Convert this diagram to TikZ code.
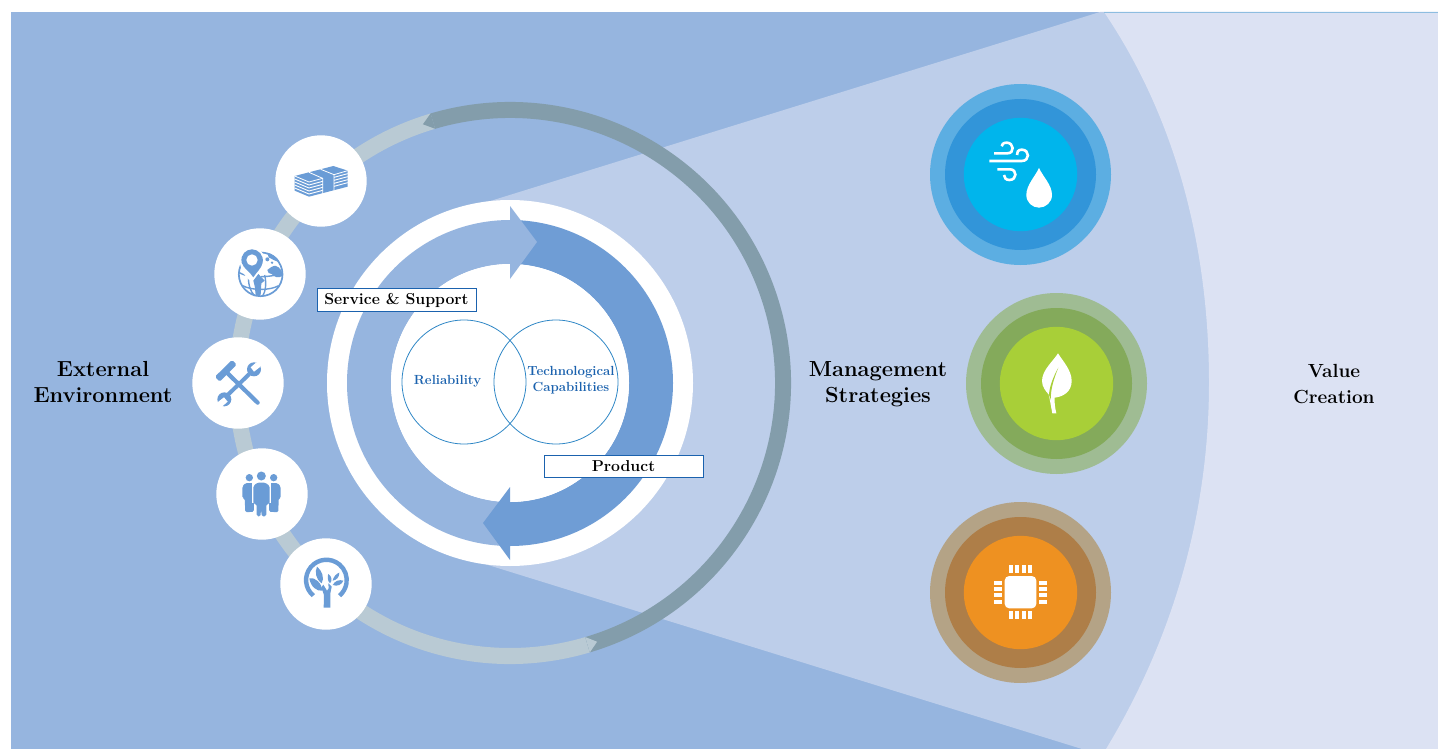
\documentclass[tikz,border=0pt]{standalone}
\definecolor{bgblue}{HTML}{96B5DF}
\definecolor{fanblue}{HTML}{BDCEEA}
\definecolor{farblue}{HTML}{DCE2F3}
\definecolor{ringdark}{HTML}{839DAB}
\definecolor{ringlight}{HTML}{B9CAD4}
\definecolor{arrowdark}{HTML}{6F9DD5}
\definecolor{textblue}{HTML}{1B62AE}
\definecolor{vennblue}{HTML}{2F87C6}
\definecolor{iconblue}{HTML}{6A9CD6}
\definecolor{aA}{HTML}{5CAEE2}\definecolor{aB}{HTML}{3295D9}\definecolor{aC}{HTML}{00B5EC}
\definecolor{bA}{HTML}{9FBC93}\definecolor{bB}{HTML}{84AA5B}\definecolor{bC}{HTML}{A8CF38}
\definecolor{cA}{HTML}{B4A386}\definecolor{cB}{HTML}{AE7E48}\definecolor{cC}{HTML}{EE9121}
\newcommand{\ringseg}[5]{\fill[#1] ([shift={(510,383)}]#2:#5) arc[start angle=#2,end angle=#3,radius=#5] -- ([shift={(510,383)}]#3:#4) arc[start angle=#3,end angle=#2,radius=#4] -- cycle;}
\newcommand{\target}[5]{\fill[#3] (#1,#2) circle (90.5);\fill[#4] (#1,#2) circle (75.5);\fill[#5] (#1,#2) circle (56.7);}
\tikzset{
  zoomed/.style={x=0.33333pt,y=-0.33333pt},
  headline/.style={font=\bfseries\fontsize{21.8}{26.3}\selectfont,align=center,inner sep=0pt,text=black},
  headsmall/.style={font=\bfseries\fontsize{19}{26.3}\selectfont,align=center,inner sep=0pt,text=black},
  tagbox/.style={draw=textblue,fill=white,line width=0.9pt,minimum width=159pt,minimum height=22.5pt,inner sep=0pt,font=\bfseries\fontsize{15.8}{16}\selectfont,text=black},
  venntext/.style={font=\bfseries\fontsize{13.2}{16}\selectfont,align=center,inner sep=0pt,text=textblue},
  vennring/.style={draw=vennblue,line width=0.8pt},
  whitedisc/.style={fill=white},
}
\begin{document}
\begin{tikzpicture}[x=1pt,y=-1pt]
\useasboundingbox (0,0) rectangle (1438,749);
% backgrounds
\fill[bgblue] (11,12) rectangle (1438,749);
\fill[fanblue] (480,204.2) -- (1100,12) -- (1438,12) -- (1438,749) -- (1082,749) -- (480,562.5) -- cycle;
\fill[farblue] (1104,12) .. controls (1175,117) and (1209,245) .. (1209,383) .. controls (1209,510) and (1175,635) .. (1106,749) -- (1438,749) -- (1438,12) -- cycle;
\draw[vennblue!55,line width=0.6pt] (1104,12) -- (1438,12);
% big ring
\ringseg{ringlight}{73.5}{253.6}{265}{281}
\ringseg{ringdark}{-106.4}{73.5}{265}{281}
\fill[ringdark] ([shift={(510,383)}]-106.4:265) -- ([shift={(510,383)}]-108.6:273) -- ([shift={(510,383)}]-106.4:281) -- cycle;
\fill[ringlight] ([shift={(510,383)}]73.5:265) -- ([shift={(510,383)}]71.4:273) -- ([shift={(510,383)}]73.5:281) -- cycle;
% white icon discs
\fill[whitedisc] (321,181) circle (45.7);
\fill[whitedisc] (260,274) circle (45.7);
\fill[whitedisc] (238,383) circle (45.7);
\fill[whitedisc] (262,494) circle (45.7);
\fill[whitedisc] (326,584) circle (45.7);
% central ring and arrows
\fill[whitedisc] (510,383) circle (183);
\ringseg{bgblue}{90}{270}{119}{163}
\ringseg{arrowdark}{-90}{90}{119}{163}
\fill[whitedisc] (510,383) circle (119);
\fill[arrowdark] (510,487) -- (510,560) -- (483,523) -- cycle;
\fill[bgblue] (510,206) -- (510,279) -- (537,242) -- cycle;
% venn
\draw[vennring] (464,382) circle (62);
\draw[vennring] (556,382) circle (62);
\node[venntext] (reliab) at (447.5,381.5) {Reliability};
\node[venntext] (techcap) at (571,380) {Technological\\Capabilities};
% tags
\node[tagbox] (service) at (396.5,300) {Service \& Support};
\node[tagbox] (product) at (623.5,466.5) {Product};
% headings
\node[headline] (external) at (103,382) {External\\Environment};
\node[headline] (mgmt) at (878,384) {Management\\Strategies};
\node[headsmall] (value) at (1334,384) {Value\\Creation};
% targets
\target{1020.5}{174.5}{aA}{aB}{aC}
\target{1056.5}{383.5}{bA}{bB}{bC}
\target{1020.5}{592.5}{cA}{cB}{cC}
% money icon
\begin{scope}[shift={(190,120)},zoomed]
\fill[iconblue] (314,168) -- (430,138) -- (473,152) -- (473,200) -- (357,230) -- (314,212) -- cycle;
\foreach \k in {1,...,4}{
  \draw[white,line width=0.9pt] (314,168+9*\k) -- (357,186+9*\k) -- (398,175+9*\k);
  \draw[white,line width=0.9pt] (432,163+9*\k) -- (473,152+9*\k);
}
\draw[white,line width=0.8pt] (314,168) -- (357,186) -- (398,175);
\draw[white,line width=0.8pt] (432,164) -- (473,152);
\draw[white,line width=0.8pt] (357,157) -- (398,175) -- (398,222);
\draw[white,line width=0.8pt] (392,148) -- (432,164) -- (432,212);
% globe icon
\draw[iconblue,line width=1.7pt] (212,463) circle (65.5);
\draw[iconblue,line width=1.4pt] (148,458) .. controls (170,474) and (250,474) .. (276,458);
\draw[iconblue,line width=1.4pt] (158,497) .. controls (185,512) and (240,512) .. (266,497);
\draw[iconblue,line width=1.4pt] (177,465) .. controls (172,490) and (182,515) .. (194,528);
\draw[iconblue,line width=1.4pt] (224,465) .. controls (230,490) and (227,515) .. (217,530);
\fill[iconblue] (232,450) .. controls (242,442) and (250,436) .. (258,438) .. controls (270,442) and (276,452) .. (279,466) .. controls (265,478) and (252,470) .. (245,462) .. controls (238,462) and (232,458) .. (232,450) -- cycle;
\fill[iconblue] (232,398) .. controls (245,400) and (262,412) .. (268,424) .. controls (256,426) and (246,416) .. (236,412) -- cycle;
\fill[iconblue] (232,418) circle (6) (246,428) circle (4);
\fill[white] (150,430) .. controls (155,465) and (180,482) .. (190,490) .. controls (205,480) and (226,460) .. (226,425) .. controls (226,400) and (205,382) .. (186,382) .. controls (165,382) and (148,405) .. (150,430) -- cycle;
\fill[iconblue] (155,428) .. controls (150,402) and (170,388) .. (186,388) .. controls (205,388) and (222,405) .. (218,428) .. controls (215,445) and (198,458) .. (190,472) .. controls (182,458) and (160,445) .. (155,428) -- cycle;
\fill[white] (186,420) circle (17);
\fill[iconblue] (205,462) -- (190,482) -- (194,498) -- (197,525) -- (212,525) -- (214,490) -- (224,482) -- cycle;
\end{scope}
% tool, people, tree icons
\begin{scope}[shift={(180,330)},zoomed]
\fill[iconblue,rounded corners=1.5pt] (105,140) -- (156,90) -- (170,104) -- (119,155) -- cycle;
\draw[iconblue,line width=4.2pt,line cap=round] (143,130) -- (233,218);
\draw[iconblue,line width=4pt] (140,198) -- (208,132);
\fill[iconblue] (222,118) circle (21);
\fill[white] (227,99) -- (212,112) -- (222,125) -- (240,111) -- (246,96) -- cycle;
\fill[iconblue] (133,208) circle (21);
\fill[white] (128,228) -- (143,215) -- (132,202) -- (115,215) -- (108,232) -- cycle;
% people
\fill[iconblue] (208,443) circle (11);
\fill[iconblue] (281,443) circle (11);
\fill[iconblue] (244,438) circle (13.5);
\fill[iconblue,rounded corners=1.5pt] (187,470) -- (196,459) -- (220,459) -- (222,545) -- (196,547) -- (194,505) -- (187,505) -- cycle;
\fill[iconblue,rounded corners=1.5pt] (302,470) -- (293,459) -- (268,459) -- (267,545) -- (295,547) -- (296,505) -- (302,505) -- cycle;
\draw[white,line width=1.5pt] (219,455) -- (219,520) (270,455) -- (270,520);
\fill[iconblue,rounded corners=1.5pt] (220,468) -- (232,458) -- (256,458) -- (269,468) -- (269,522) -- (259,522) -- (259,558) -- (246,560) -- (243,540) -- (241,560) -- (230,558) -- (230,522) -- (220,522) -- cycle;
% tree
\draw[iconblue,line width=4.4pt] (400,797) arc[start angle=130,end angle=410,radius=61];
\fill[iconblue] (431,833) -- (451,833) -- (451,790) -- (455,770) -- (445,760) -- (446,775) -- (441,782) -- (430,764) -- (424,772) -- (432,795) -- cycle;
\fill[iconblue] (425,760) .. controls (405,745) and (405,725) .. (411,710) .. controls (425,720) and (435,745) .. (425,760) -- cycle;
\fill[iconblue] (388,745) .. controls (405,740) and (425,760) .. (428,782) .. controls (410,785) and (392,770) .. (388,745) -- cycle;
\fill[iconblue] (445,732) .. controls (455,738) and (458,752) .. (450,760) .. controls (442,752) and (442,740) .. (445,732) -- cycle;
\fill[iconblue] (478,728) .. controls (470,730) and (460,740) .. (458,752) .. controls (470,750) and (478,742) .. (478,728) -- cycle;
\fill[iconblue] (490,752) .. controls (478,748) and (465,752) .. (458,765) .. controls (472,770) and (485,765) .. (490,752) -- cycle;
\end{scope}
% wind and drop
\begin{scope}[shift={(920,75)},zoomed]
\draw[white,line width=2.6pt] (222,235) -- (262,235) .. controls (285,235) and (282,203) .. (260,203) .. controls (250,203) and (245,208) .. (245,214);
\draw[white,line width=2.6pt] (208,258) -- (305,258) .. controls (330,258) and (330,224) .. (305,224) .. controls (295,224) and (289,232) .. (291,240);
\draw[white,line width=2.6pt] (232,283) -- (270,283) .. controls (292,283) and (292,315) .. (268,315) .. controls (258,315) and (252,308) .. (252,300);
\fill[white] (357,279) .. controls (345,305) and (319,330) .. (319,360) .. controls (319,382) and (337,398) .. (357,398) .. controls (377,398) and (396,382) .. (396,360) .. controls (396,330) and (369,305) .. (357,279) -- cycle;
\end{scope}
% leaf
\begin{scope}[shift={(920,285)},zoomed]
\fill[white] (414,205) .. controls (400,228) and (366,255) .. (366,288) .. controls (366,305) and (378,320) .. (386,328) .. controls (390,345) and (393,365) .. (397,385) -- (409,385) .. controls (405,368) and (403,352) .. (404,338) .. controls (430,335) and (455,320) .. (455,288) .. controls (455,255) and (428,228) .. (414,205) -- cycle;
\fill[bC] (415,248) .. controls (400,275) and (388,305) .. (387,330) .. controls (390,335) and (391,340) .. (392,345) .. controls (392,310) and (402,280) .. (415,248) -- cycle;
\end{scope}
% chip
\begin{scope}[shift={(920,495)},zoomed]
\fill[white,rounded corners=4.5pt] (254,243) rectangle (349,340);
\foreach \a in {267,285.5,305,324}{
  \fill[white] (\a,210) rectangle ++(12.5,24);
  \fill[white] (\a,348) rectangle ++(12.5,24);
}
\foreach \b in {258,276,294.5,314.5}{
  \fill[white] (222,\b) rectangle ++(24,12.5);
  \fill[white] (357,\b) rectangle ++(24,12.5);
}
\end{scope}
\end{tikzpicture}
\end{document}
